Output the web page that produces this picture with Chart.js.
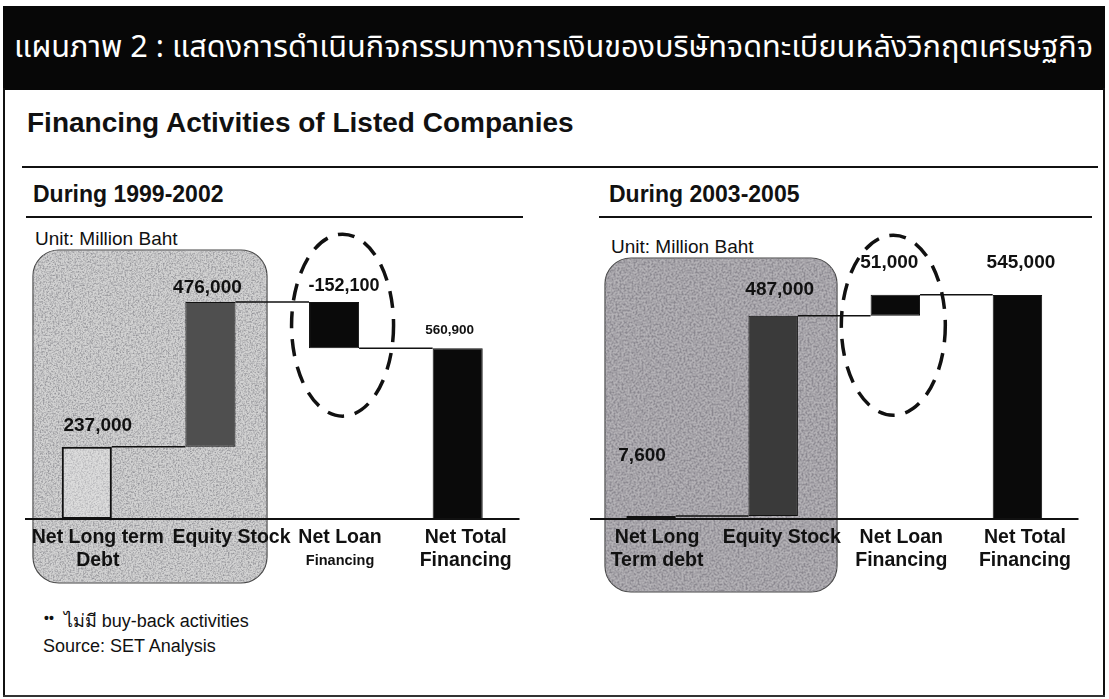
<!DOCTYPE html>
<html>
<head>
<meta charset="utf-8">
<script src="https://cdn.jsdelivr.net/npm/chart.js@4.4.1/dist/chart.umd.min.js"></script>
<style>
  html, body { margin: 0; padding: 0; background: #fff; }
  #page { position: relative; width: 1109px; height: 699px; overflow: hidden; background: #fff;
          font-family: "Liberation Sans", Arial, sans-serif; color: #111; }
  .t { position: absolute; line-height: 1; white-space: nowrap; transform: translateY(-50%); }
  .rule { position: absolute; background: #111; }
  canvas { position: absolute; }
  #deco { position: absolute; left: 0; top: 0; }
</style>
</head>
<body>
<div id="page">
  <!-- frame -->
  <div class="rule" style="left:3px; top:6px; width:1102px; height:84px; background:#070707"></div>
  <div class="rule" style="left:3px; top:88px; width:2px; height:609px"></div>
  <div class="rule" style="left:1103px; top:88px; width:2px; height:609px"></div>
  <div class="rule" style="left:3px; top:695px; width:1102px; height:2px; background:#333"></div>

  <div id="title" class="t" style="left:14px; top:48px; color:#fff; font-size:30px; font-family:'Noto Sans Thai','Noto Sans','DejaVu Sans',sans-serif; transform-origin:left center">แผนภาพ 2 : แสดงการดำเนินกิจกรรมทางการเงินของบริษัทจดทะเบียนหลังวิกฤตเศรษฐกิจ</div>

  <div class="t" style="left:27px; top:123px; font-size:28px; font-weight:bold">Financing Activities of Listed Companies</div>
  <div class="rule" style="left:22px; top:166px; width:1076px; height:2px"></div>

  <svg id="deco" width="1109" height="699">
    <defs>
      <filter id="grain" x="0" y="0" width="100%" height="100%">
        <feTurbulence type="fractalNoise" baseFrequency="0.6" numOctaves="3" seed="4" result="n"/>
        <feColorMatrix in="n" type="matrix" values="0 0 0 0 0.3  0 0 0 0 0.3  0 0 0 0 0.32  -2.4 0 0 0 1.45" result="spots"/>
        <feComposite in="spots" in2="SourceAlpha" operator="in"/>
      </filter>
      <filter id="grainDark" x="0" y="0" width="100%" height="100%">
        <feTurbulence type="fractalNoise" baseFrequency="0.5" numOctaves="3" seed="9" result="n"/>
        <feColorMatrix in="n" type="matrix" values="0 0 0 0 0.25  0 0 0 0 0.24  0 0 0 0 0.27  -2.6 0 0 0 1.65" result="spots"/>
        <feComposite in="spots" in2="SourceAlpha" operator="in"/>
      </filter>
    </defs>
    <!-- shaded boxes behind the first two bars of each panel -->
    <rect x="33" y="250" width="234" height="333" rx="26" fill="#d2d2d2" stroke="#444" stroke-width="1.2"/>
    <rect x="33" y="250" width="234" height="333" rx="26" fill="#000" filter="url(#grain)"/>
    <rect x="605" y="258" width="232" height="334" rx="26" fill="#b4b2b6" stroke="#444" stroke-width="1.2"/>
    <rect x="605" y="258" width="232" height="334" rx="26" fill="#000" filter="url(#grainDark)"/>
  </svg>

  <div class="t" style="left:33px; top:194px; font-size:23px; font-weight:bold">During 1999-2002</div>
  <div class="rule" style="left:26px; top:216px; width:497px; height:2px"></div>
  <div class="t" style="left:35px; top:238px; font-size:19px">Unit: Million Baht</div>

  <div class="t" style="left:609px; top:194px; font-size:23px; font-weight:bold">During 2003-2005</div>
  <div class="rule" style="left:599px; top:216px; width:493px; height:2px"></div>
  <div class="t" style="left:611px; top:246px; font-size:19px">Unit: Million Baht</div>

  <canvas id="leftChart" width="550" height="380" style="left:0; top:220px"></canvas>
  <canvas id="rightChart" width="559" height="380" style="left:550px; top:220px"></canvas>

  <div class="t" style="left:44px; top:621px; font-size:18px"><span style="font-weight:bold; font-size:14px; position:relative; top:-4px">••</span>&nbsp; ไม่มี buy-back activities</div>
  <div class="t" style="left:43px; top:646px; font-size:18px">Source: SET Analysis</div>
</div>

<script>
// 1999-2002
const leftCategories = [['Net Long term', 'Debt'], ['Equity Stock'], ['Net Loan', 'Financing'], ['Net Total', 'Financing']];
const leftSteps = [237000, 476000, -152100];
const leftTotal = 560900;

// 2003-2005
const rightCategories = [['Net Long', 'Term debt'], ['Equity Stock'], ['Net Loan', 'Financing'], ['Net Total', 'Financing']];
const rightSteps = [7600, 487000, 51000];
const rightTotal = 545000;

// turn the steps into floating bars plus the running levels for the connectors
function waterfall(steps, total) {
  const bars = [];
  const levels = [];
  let run = 0;
  steps.forEach(s => {
    bars.push([Math.min(run, run + s), Math.max(run, run + s)]);
    run += s;
    levels.push(run);
  });
  bars.push([0, total]);
  const labels = steps.concat([total]).map(v => v.toLocaleString('en-US'));
  return { bars, levels, labels };
}

const FONT = '"Liberation Sans", Arial, sans-serif';

const waterfallDecor = {
  id: 'waterfallDecor',
  afterDatasetsDraw(chart, args, opts) {
    const { ctx, chartArea, scales: { y } } = chart;
    const bars = chart.getDatasetMeta(0).data;
    ctx.save();

    // base line
    const y0 = y.getPixelForValue(0);
    ctx.strokeStyle = '#111';
    ctx.lineWidth = 2;
    ctx.beginPath();
    ctx.moveTo(chartArea.left, y0);
    ctx.lineTo(chartArea.right, y0);
    ctx.stroke();

    // connectors between bars
    ctx.lineWidth = 1.5;
    for (let i = 0; i < bars.length - 1; i++) {
      const a = bars[i], b = bars[i + 1];
      const yy = y.getPixelForValue(opts.levels[i]);
      ctx.beginPath();
      ctx.moveTo(a.x + a.width / 2, yy);
      ctx.lineTo(b.x - b.width / 2, yy);
      ctx.stroke();
    }

    // dashed ring around the loan bar
    const e = opts.ring;
    const rb = bars[e.index];
    ctx.lineWidth = 3.5;
    ctx.setLineDash([17, 11]);
    ctx.beginPath();
    ctx.ellipse(rb.x + e.dx, (rb.y + rb.base) / 2 + e.dy, e.rx, e.ry, 0, 0, Math.PI * 2);
    ctx.stroke();
    ctx.setLineDash([]);

    // values above bars
    ctx.fillStyle = '#111';
    ctx.textAlign = 'center';
    ctx.textBaseline = 'middle';
    bars.forEach((bar, i) => {
      const top = Math.min(bar.y, bar.base);
      const off = opts.valueOffsets[i];
      ctx.font = 'bold ' + opts.valueSizes[i] + 'px ' + FONT;
      ctx.fillText(opts.valueLabels[i], bar.x + off[0], top - off[1]);
    });

    // category names under the base line
    chart.data.labels.forEach((lines, i) => {
      const x = bars[i].x + opts.catDx[i];
      lines.forEach((line, j) => {
        ctx.font = 'bold ' + opts.catSizes[i][j] + 'px ' + FONT;
        ctx.fillText(line, x, y0 + opts.lineY[j]);
      });
    });
    ctx.restore();
  }
};

function makeChart(id, categories, steps, total, look) {
  const wf = waterfall(steps, total);
  return new Chart(document.getElementById(id), {
    type: 'bar',
    data: {
      labels: categories,
      datasets: [{
        data: wf.bars,
        backgroundColor: look.colors,
        borderColor: '#111',
        borderWidth: look.borders,
        borderSkipped: false,
        barPercentage: 0.405,
        categoryPercentage: 1
      }]
    },
    options: {
      responsive: false,
      animation: false,
      layout: { padding: look.padding },
      plugins: {
        legend: { display: false },
        tooltip: { enabled: false },
        waterfallDecor: {
          levels: wf.levels,
          valueLabels: wf.labels,
          valueOffsets: look.valueOffsets,
          valueSizes: look.valueSizes,
          catDx: look.catDx,
          catSizes: look.catSizes,
          lineY: [19, 42],
          ring: look.ring
        }
      },
      scales: {
        x: { display: false },
        y: { display: false, min: 0, max: look.max }
      }
    },
    plugins: [waterfallDecor]
  });
}

makeChart('leftChart', leftCategories, leftSteps, leftTotal, {
  colors: ['rgba(240,240,240,0.35)', '#4f4f4f', '#0a0a0a', '#0a0a0a'],
  borders: [2, 1, 1, 1],
  padding: { left: 25, right: 30.5, top: 55.5, bottom: 81 },
  max: 800000,
  valueOffsets: [[11, 21], [-3, 14], [10, 16], [-8, 18]],
  valueSizes: [19, 19, 18, 13.5],
  catDx: [11, 21, 6, 8],
  catSizes: [[19.5, 19.5], [19.5], [19.5, 14.5], [19.5, 19.5]],
  ring: { index: 2, dx: 8.5, dy: 0, rx: 51, ry: 91 }
});

makeChart('rightChart', rightCategories, rightSteps, rightTotal, {
  colors: ['rgba(200,200,200,0.3)', '#3a3a3a', '#0a0a0a', '#0a0a0a'],
  borders: [1.5, 1, 1, 1],
  padding: { left: 40, right: 30.5, top: 52.4, bottom: 81 },
  max: 600000,
  valueOffsets: [[-9, 60], [6.5, 26], [-6, 32], [3.5, 32]],
  valueSizes: [19, 19, 19, 19],
  catDx: [6, 8.5, 6, 7.5],
  catSizes: [[19.5, 19.5], [19.5], [19.5, 19.5], [19.5, 19.5]],
  ring: { index: 2, dx: -2, dy: 20, rx: 52, ry: 90 }
});

// squeeze the Thai heading to the width of the bar
const title = document.getElementById('title');
const w = title.getBoundingClientRect().width;
title.style.transform = 'translateY(-50%) scaleX(' + (1079 / w) + ')';
</script>
</body>
</html>
